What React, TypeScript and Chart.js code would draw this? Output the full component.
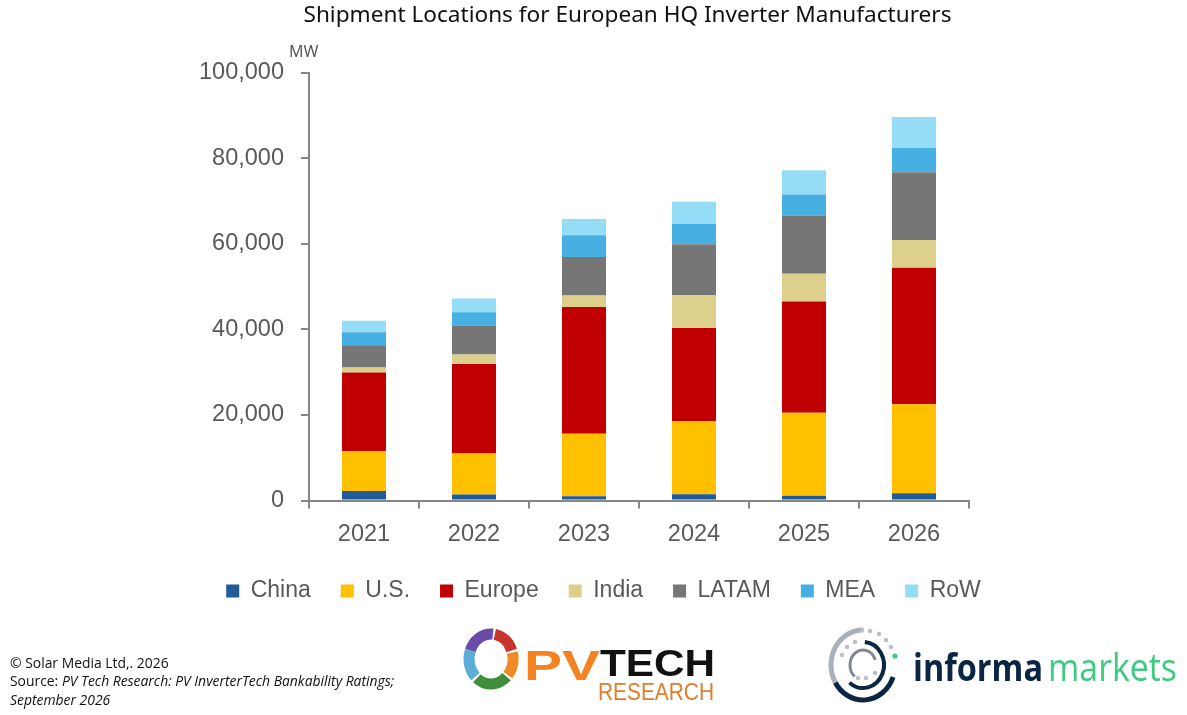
import React, { useEffect, useRef } from "react";
import { Chart, registerables } from "chart.js";

Chart.register(...registerables);

const years = ["2021", "2022", "2023", "2024", "2025", "2026"];
const china = [2200, 1400, 1000, 1450, 1100, 1700];
const us = [9300, 9600, 14600, 17050, 19400, 20800];
const europe = [18400, 20900, 29600, 21800, 26000, 31900];
const india = [1200, 2200, 2700, 7700, 6500, 6500];
const latam = [5200, 6800, 9000, 11900, 13600, 15800];
const mea = [3000, 3100, 5100, 4700, 4900, 5700];
const row = [2700, 3200, 3800, 5200, 5700, 7200];

const GREY = "#595959";
const AXIS = "#868686";

// moves title and legend sideways, the plot is not centred on the page
const shiftBlocks = {
  id: "shiftBlocks",
  afterLayout(chart: any) {
    chart.legend.left += 119;
    chart.legend.right += 119;
    chart.titleBlock.left += 143;
    chart.titleBlock.right += 143;
  },
};

function arc(cx: number, cy: number, rx: number, ry: number, a0: number, a1: number) {
  const p = (a: number) => {
    const r = (a * Math.PI) / 180;
    return `${cx + rx * Math.cos(r)} ${cy + ry * Math.sin(r)}`;
  };
  return `M ${p(a0)} A ${rx} ${ry} 0 ${a1 - a0 > 180 ? 1 : 0} 1 ${p(a1)}`;
}

function Logos() {
  const ring = (d: string, color: string, w: number) => (
    <path d={d} fill="none" stroke={color} strokeWidth={w} />
  );
  const dots = [
    [862, 630], [870, 631], [879, 634], [886, 640], [891, 647],
    [855, 642], [847, 647], [842, 655], [858, 678], [866, 678], [875, 673],
  ];
  return (
    <svg width={1187} height={715} style={{ position: "absolute", left: 0, top: 0, pointerEvents: "none" }}>
      {ring(arc(491, 659, 22, 25, -160, -85), "#6A4BA8", 11)}
      {ring(arc(491, 659, 22, 25, -80, -20), "#C8342E", 11)}
      {ring(arc(491, 659, 22, 25, -15, 40), "#F08A24", 11)}
      {ring(arc(491, 659, 22, 25, 45, 130), "#3F8F3A", 11)}
      {ring(arc(491, 659, 22, 25, 135, 200), "#5BAFD6", 11)}
      <text x={524} y={680} fontFamily="Liberation Sans" fontWeight="bold" fontSize={42} fill="#F58220" textLength={76} lengthAdjust="spacingAndGlyphs">PV</text>
      <text x={600} y={676} fontFamily="Liberation Sans" fontWeight="bold" fontSize={36} fill="#111" textLength={115} lengthAdjust="spacingAndGlyphs">TECH</text>
      <text x={598} y={700} fontFamily="Liberation Sans" fontSize={24} fill="#E27B2A" textLength={116} lengthAdjust="spacingAndGlyphs">RESEARCH</text>

      {ring(arc(863, 665, 32, 35, 20, 150), "#0B2545", 5)}
      {ring(arc(863, 665, 32, 35, 150, 270), "#A9B0BA", 5)}
      {ring(arc(863, 665, 21, 23, -85, 130), "#0B2545", 4)}
      {ring(arc(863, 665, 13, 15, 130, 340), "#7F8894", 3)}
      {dots.map(([x, y], i) => <circle key={i} cx={x} cy={y} r={2.2} fill="#B9BFC9" />)}
      <circle cx={895} cy={656} r={2.6} fill="#3DCB7F" />
      <text x={913} y={681} fontFamily="Open Sans" fontWeight="bold" fontSize={38} fill="#0B2545" textLength={130} lengthAdjust="spacingAndGlyphs">informa</text>
      <text x={1048} y={681} fontFamily="Open Sans" fontSize={38} fill="#3DCB7F" textLength={129} lengthAdjust="spacingAndGlyphs">markets</text>
    </svg>
  );
}

export default function App() {
  const canvasRef = useRef<HTMLCanvasElement | null>(null);

  useEffect(() => {
    if (!canvasRef.current) return;
    const chart = new Chart(canvasRef.current, {
      type: "bar",
      data: {
        labels: years,
        datasets: [
          { label: "China", data: china, backgroundColor: "#1F5C99" },
          { label: "U.S.", data: us, backgroundColor: "#FFC000" },
          { label: "Europe", data: europe, backgroundColor: "#C00000" },
          { label: "India", data: india, backgroundColor: "#DDD08C" },
          { label: "LATAM", data: latam, backgroundColor: "#767676" },
          { label: "MEA", data: mea, backgroundColor: "#45B0E1" },
          { label: "RoW", data: row, backgroundColor: "#95DCF7" },
        ],
      },
      plugins: [shiftBlocks],
      options: {
        responsive: false,
        animation: false,
        datasets: { bar: { barPercentage: 0.4, categoryPercentage: 1 } },
        layout: { padding: { left: 0, right: 218, top: 0, bottom: 102.5 } },
        plugins: {
          tooltip: { enabled: false },
          title: {
            display: true,
            text: "Shipment Locations for European HQ Inverter Manufacturers",
            color: "#111",
            font: { family: "Noto Sans", size: 22.6, weight: "normal" },
            padding: { top: 2.5, bottom: 43 },
          },
          legend: {
            position: "bottom",
            labels: {
              boxWidth: 13,
              boxHeight: 13,
              padding: 30,
              color: GREY,
              font: { family: "Liberation Sans", size: 23 },
            },
          },
        },
        scales: {
          x: {
            stacked: true,
            afterFit: (s: any) => { s.height = 49; },
            grid: { drawOnChartArea: false, color: AXIS, lineWidth: 2, tickLength: 8 },
            border: { color: AXIS, width: 2 },
            ticks: { color: GREY, padding: 12, font: { family: "Liberation Sans", size: 23.5 } },
          },
          y: {
            stacked: true,
            min: 0,
            max: 100000,
            afterFit: (s: any) => { s.width = 309; },
            grid: { drawOnChartArea: false, color: AXIS, lineWidth: 2, tickLength: 8 },
            border: { color: AXIS, width: 2 },
            ticks: {
              stepSize: 20000,
              color: GREY,
              padding: 17,
              font: { family: "Liberation Sans", size: 23.5 },
              callback: (v: any) => Number(v).toLocaleString("en-US"),
            },
          },
        },
      },
    });
    return () => chart.destroy();
  }, []);

  const note: React.CSSProperties = {
    position: "absolute",
    left: 10,
    fontFamily: "Open Sans",
    fontSize: 13.9,
    color: "#111",
    whiteSpace: "nowrap",
  };

  return (
    <div style={{ position: "absolute", left: 0, top: 0, width: 1187, height: 715, background: "#fff", overflow: "hidden" }}>
      <canvas ref={canvasRef} width={1187} height={715} style={{ display: "block" }} />
      <div style={{ position: "absolute", left: 289, top: 40, fontFamily: "Noto Sans", fontSize: 16, color: GREY }}>MW</div>
      <div style={{ ...note, top: 653 }}>© Solar Media Ltd,. 2026</div>
      <div style={{ ...note, top: 671 }}>Source: <i>PV Tech Research: PV InverterTech Bankability Ratings;</i></div>
      <div style={{ ...note, top: 690 }}><i>September 2026</i></div>
      <Logos />
    </div>
  );
}
